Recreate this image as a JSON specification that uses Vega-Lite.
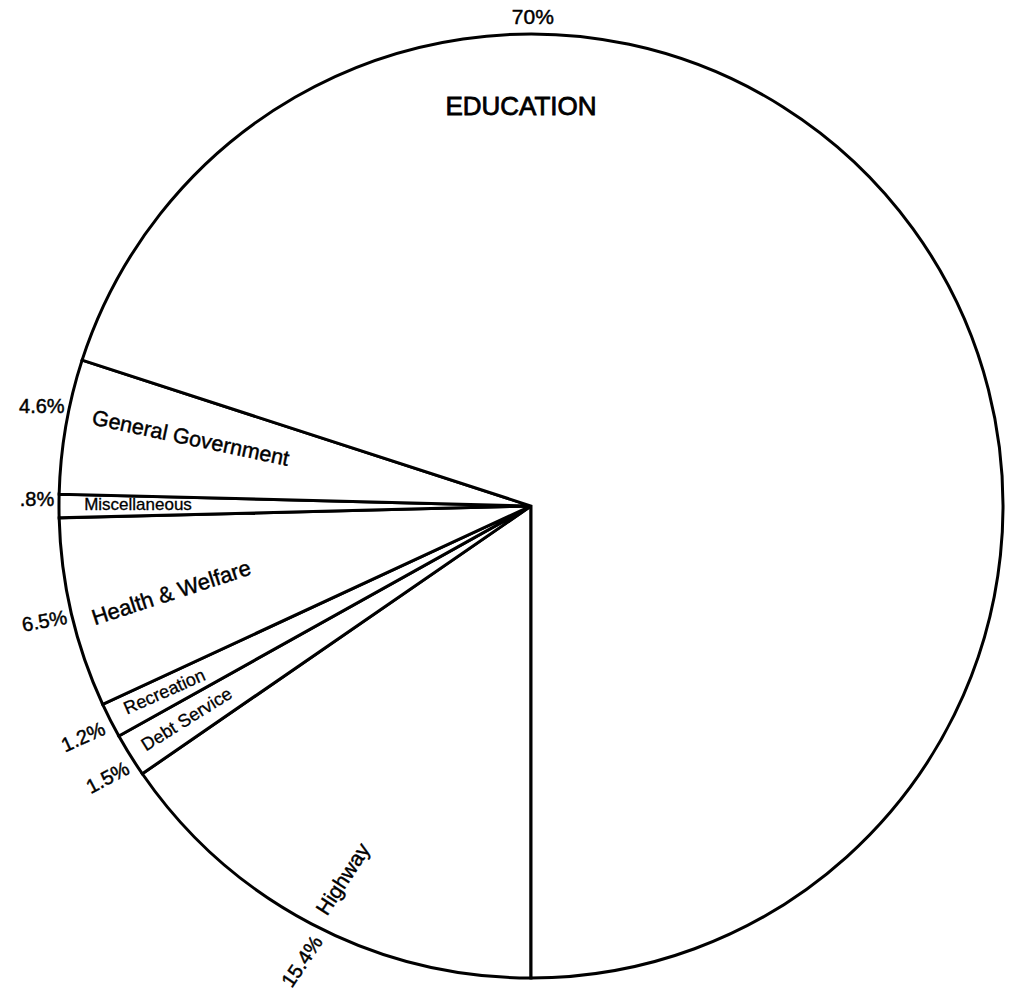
{
  "$schema": "https://vega.github.io/schema/vega-lite/v6.json",
  "autosize": "none",
  "width": 960,
  "height": 972,
  "padding": {"left": 51, "top": 20, "right": 1, "bottom": 2},
  "background": "white",
  "config": {"view": {"stroke": null}, "text": {"font": "Liberation Sans", "align": "center", "baseline": "middle", "color": "black", "stroke": "black", "strokeWidth": 0.45}},
  "data": {
    "values": [
      {"category": "Highway", "name": "Highway", "pct": 15.4, "label": "15.4%", "ord": 1},
      {"category": "Debt Service", "name": "Debt Service", "pct": 1.5, "label": "1.5%", "ord": 2},
      {"category": "Recreation", "name": "Recreation", "pct": 1.2, "label": "1.2%", "ord": 3},
      {"category": "Health & Welfare", "name": "Health & Welfare", "pct": 6.5, "label": "6.5%", "ord": 4},
      {"category": "Miscellaneous", "name": "Miscellaneous", "pct": 0.8, "label": ".8%", "ord": 5},
      {"category": "General Government", "name": "General Government", "pct": 4.6, "label": "4.6%", "ord": 6},
      {"category": "Education", "name": "EDUCATION", "pct": 70, "label": "70%", "ord": 7}
    ]
  },
  "layer": [
    {
      "mark": {"type": "arc", "radius": 472, "fill": "white", "stroke": "black", "strokeWidth": 3},
      "encoding": {
        "theta": {"field": "pct", "type": "quantitative", "stack": true, "scale": {"domain": [0, 100], "range": [3.14159265, 9.42477796]}},
        "order": {"field": "ord", "type": "quantitative", "sort": "ascending"}
      }
    },
    {
      "transform": [{"filter": "datum.category === 'Education'"}],
      "mark": {"type": "text", "radius": 399, "angle": 0, "fontSize": 26, "strokeWidth": 0.8},
      "encoding": {"theta": {"datum": 49.6, "type": "quantitative"}, "text": {"field": "name"}}
    },
    {
      "transform": [{"filter": "datum.category === 'Education'"}],
      "mark": {"type": "text", "radius": 488, "angle": 0, "fontSize": 21},
      "encoding": {"theta": {"datum": 50.06, "type": "quantitative"}, "text": {"field": "label"}}
    },
    {
      "transform": [{"filter": "datum.category === 'General Government'"}],
      "mark": {"type": "text", "radius": 347, "angle": 12, "fontSize": 21.5},
      "encoding": {"theta": {"datum": 28.08, "type": "quantitative"}, "text": {"field": "name"}}
    },
    {
      "transform": [{"filter": "datum.category === 'General Government'"}],
      "mark": {"type": "text", "radius": 499, "angle": 0, "fontSize": 20},
      "encoding": {"theta": {"datum": 28.17, "type": "quantitative"}, "text": {"field": "label"}}
    },
    {
      "transform": [{"filter": "datum.category === 'Miscellaneous'"}],
      "mark": {"type": "text", "radius": 393, "angle": 0, "fontSize": 17, "strokeWidth": 0.3},
      "encoding": {"theta": {"datum": 25.05, "type": "quantitative"}, "text": {"field": "name"}}
    },
    {
      "transform": [{"filter": "datum.category === 'Miscellaneous'"}],
      "mark": {"type": "text", "radius": 494, "angle": 0, "fontSize": 20},
      "encoding": {"theta": {"datum": 25.19, "type": "quantitative"}, "text": {"field": "label"}}
    },
    {
      "transform": [{"filter": "datum.category === 'Health & Welfare'"}],
      "mark": {"type": "text", "radius": 370, "angle": -18, "fontSize": 22},
      "encoding": {"theta": {"datum": 21.22, "type": "quantitative"}, "text": {"field": "name"}}
    },
    {
      "transform": [{"filter": "datum.category === 'Health & Welfare'"}],
      "mark": {"type": "text", "radius": 500, "angle": -10, "fontSize": 20},
      "encoding": {"theta": {"datum": 21.28, "type": "quantitative"}, "text": {"field": "label"}}
    },
    {
      "transform": [{"filter": "datum.category === 'Recreation'"}],
      "mark": {"type": "text", "radius": 411, "angle": -24, "fontSize": 18, "strokeWidth": 0.3},
      "encoding": {"theta": {"datum": 17.5, "type": "quantitative"}, "text": {"field": "name"}}
    },
    {
      "transform": [{"filter": "datum.category === 'Recreation'"}],
      "mark": {"type": "text", "radius": 504, "angle": -24, "fontSize": 20},
      "encoding": {"theta": {"datum": 17.4, "type": "quantitative"}, "text": {"field": "label"}}
    },
    {
      "transform": [{"filter": "datum.category === 'Debt Service'"}],
      "mark": {"type": "text", "radius": 405, "angle": -32, "fontSize": 18, "strokeWidth": 0.3},
      "encoding": {"theta": {"datum": 16.14, "type": "quantitative"}, "text": {"field": "name"}}
    },
    {
      "transform": [{"filter": "datum.category === 'Debt Service'"}],
      "mark": {"type": "text", "radius": 503, "angle": -28, "fontSize": 20},
      "encoding": {"theta": {"datum": 15.9, "type": "quantitative"}, "text": {"field": "label"}}
    },
    {
      "transform": [{"filter": "datum.category === 'Highway'"}],
      "mark": {"type": "text", "radius": 418, "angle": -57, "fontSize": 21},
      "encoding": {"theta": {"datum": 7.39, "type": "quantitative"}, "text": {"field": "name"}}
    },
    {
      "transform": [{"filter": "datum.category === 'Highway'"}],
      "mark": {"type": "text", "radius": 510, "angle": -56, "fontSize": 20},
      "encoding": {"theta": {"datum": 7.39, "type": "quantitative"}, "text": {"field": "label"}}
    }
  ]
}
